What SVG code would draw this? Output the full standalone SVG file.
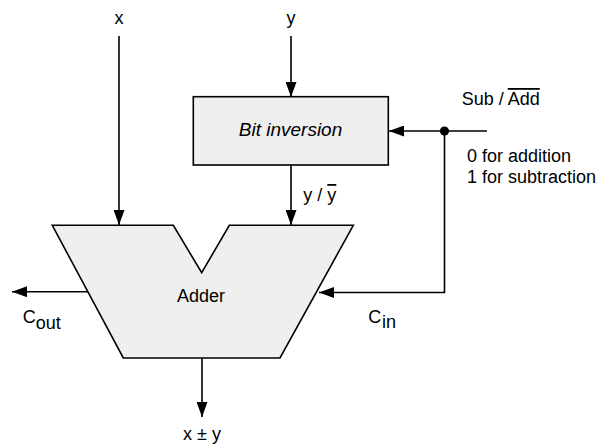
<svg xmlns="http://www.w3.org/2000/svg" width="599" height="448" viewBox="0 0 599 448">
<style>
text{font-family:"Liberation Sans",Arial,sans-serif;font-size:18px;fill:#000}
.shape{fill:#efefef;stroke:#000;stroke-width:1.6}
.wire{fill:none;stroke:#000;stroke-width:1.6}
.ov{text-decoration:overline}
</style>
<defs>
<marker id="arr" markerUnits="userSpaceOnUse" markerWidth="15" markerHeight="11" refX="15" refY="5.5" orient="auto">
<path d="M0,0 L15,5.5 L0,11 z" fill="#000"/>
</marker>
</defs>
<rect width="599" height="448" fill="#fff"/>
<g id="connectors">
<path class="wire" d="M119,36 V225" marker-end="url(#arr)"/>
<path class="wire" d="M291,36 V97" marker-end="url(#arr)"/>
<path class="wire" d="M291,165 V225" marker-end="url(#arr)"/>
<path class="wire" d="M487,131 H389" marker-end="url(#arr)"/>
<path class="wire" d="M444.5,131 V292.5 H319" marker-end="url(#arr)"/>
<path class="wire" d="M88,291.7 H12" marker-end="url(#arr)"/>
<path class="wire" d="M202,358 V417" marker-end="url(#arr)"/>
<circle cx="444.5" cy="131" r="4.6" fill="#000"/>
</g>
<g id="bit-inversion">
<rect class="shape" x="193.3" y="96.7" width="195" height="68.3"/>
<text x="290.5" y="135.7" text-anchor="middle" font-style="italic" style="font-size:19px">Bit inversion</text>
</g>
<g id="adder">
<polygon class="shape" points="52.3,225.3 173.3,225.3 201.7,272.7 229.3,225.3 353.3,225.3 280,358 123.3,358"/>
<text x="201" y="301.5" text-anchor="middle">Adder</text>
</g>
<g id="labels">
<text x="119" y="24" text-anchor="middle">x</text>
<text x="291" y="24" text-anchor="middle">y</text>
<text x="461.7" y="105">Sub / <tspan class="ov">Add</tspan></text>
<text x="467" y="162">0 for addition</text>
<text x="467" y="183">1 for subtraction</text>
<text x="303.3" y="201">y / <tspan class="ov">y</tspan></text>
<text x="22.7" y="323.3">C<tspan dy="6">out</tspan></text>
<text x="368.3" y="323.3">C<tspan x="382" dy="5">in</tspan></text>
<text x="202" y="440" text-anchor="middle">x ± y</text>
</g>
</svg>
